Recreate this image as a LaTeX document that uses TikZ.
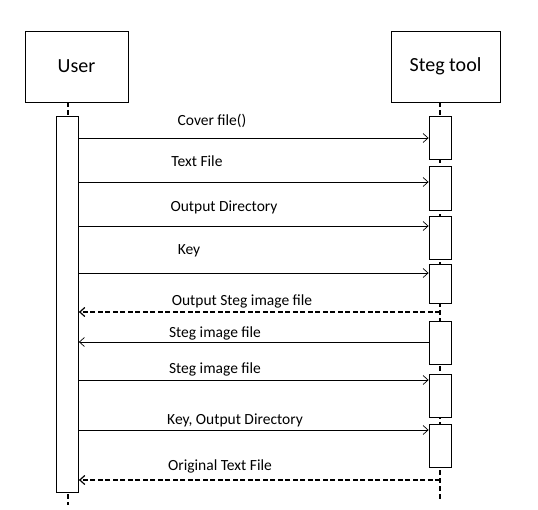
\documentclass[tikz,border=0pt]{standalone}
\usepackage{fontspec}
\setmainfont{Carlito}
\usetikzlibrary{arrows.meta}
\begin{document}
\begin{tikzpicture}[x=1pt,y=-1pt,
  actor/.style={draw,line width=0.8pt,minimum width=103pt,minimum height=71pt,inner sep=0pt,font=\fontsize{20}{22}\selectfont},
  bar/.style={draw,line width=0.8pt,fill=white,minimum width=22pt,inner sep=0pt},
  life/.style={line width=1.6pt,dash pattern=on 5pt off 3pt},
  msg/.style={line width=0.7pt,-{Straight Barb[length=5pt,width=9pt,line width=0.7pt]}},
  ret/.style={line width=1.4pt,dash pattern=on 5pt off 2.5pt,-{Straight Barb[length=5pt,width=9pt,line width=1.2pt]}},
  lbl/.style={font=\fontsize{15.5}{17}\selectfont,inner sep=0pt}]
\useasboundingbox (0,0) rectangle (538,509);
\fill[white] (0,0) rectangle (538,509);
% actors
\node[actor] (user) at (76.5,66.5) {User};
\node[actor,minimum width=109pt] (steg) at (445.5,66.5) {Steg tool};
% lifeline coordinates
\coordinate (uend) at (68,505);
\coordinate (send) at (440,500);
% lifelines (drawn first, under bars)
\draw[life] (user.south -| uend) -- (uend);
\draw[life] (440,102) -- (send);
% user activation bar
\node[bar,minimum height=376pt] (ub) at (67.5,304) {};
% steg activation bars
\node[bar,minimum height=43pt] (s1) at (440,137.5) {};
\node[bar,minimum height=44pt] (s2) at (440,188) {};
\node[bar,minimum height=43pt] (s3) at (440,237.5) {};
\node[bar,minimum height=39pt] (s4) at (440,283.5) {};
\node[bar,minimum height=43pt] (s5) at (440,342.5) {};
\node[bar,minimum height=43pt] (s6) at (440,395.5) {};
\node[bar,minimum height=43pt] (s7) at (440,445.5) {};
% message y-levels
\coordinate (y1) at (0,138);
\coordinate (y2) at (0,182);
\coordinate (y3) at (0,226);
\coordinate (y4) at (0,273);
\coordinate (y5) at (0,312);
\coordinate (y6) at (0,342);
\coordinate (y7) at (0,380);
\coordinate (y8) at (0,430);
\coordinate (y9) at (0,480);
% messages
\draw[msg] (ub.east |- y1) -- (s1.west |- y1);
\draw[msg] (ub.east |- y2) -- (s2.west |- y2);
\draw[msg] (ub.east |- y3) -- (s3.west |- y3);
\draw[msg] (ub.east |- y4) -- (s4.west |- y4);
\draw[ret] (send |- y5) -- (ub.east |- y5);
\draw[msg] (s5.west |- y6) -- (ub.east |- y6);
\draw[msg] (ub.east |- y7) -- (s6.west |- y7);
\draw[msg] (ub.east |- y8) -- (s7.west |- y8);
\draw[ret] (send |- y9) -- (ub.east |- y9);
% labels
\node[lbl] (l1) at (212,121) {Cover file()};
\node[lbl] (l2) at (197,161) {Text File};
\node[lbl] (l3) at (224,207) {Output Directory};
\node[lbl] (l4) at (189,251) {Key};
\node[lbl] (l5) at (242,301) {Output Steg image file};
\node[lbl] (l6) at (215,333) {Steg image file};
\node[lbl] (l7) at (215,369) {Steg image file};
\node[lbl] (l8) at (235,420) {Key, Output Directory};
\node[lbl] (l9) at (220,466) {Original Text File};
\end{tikzpicture}
\end{document}
